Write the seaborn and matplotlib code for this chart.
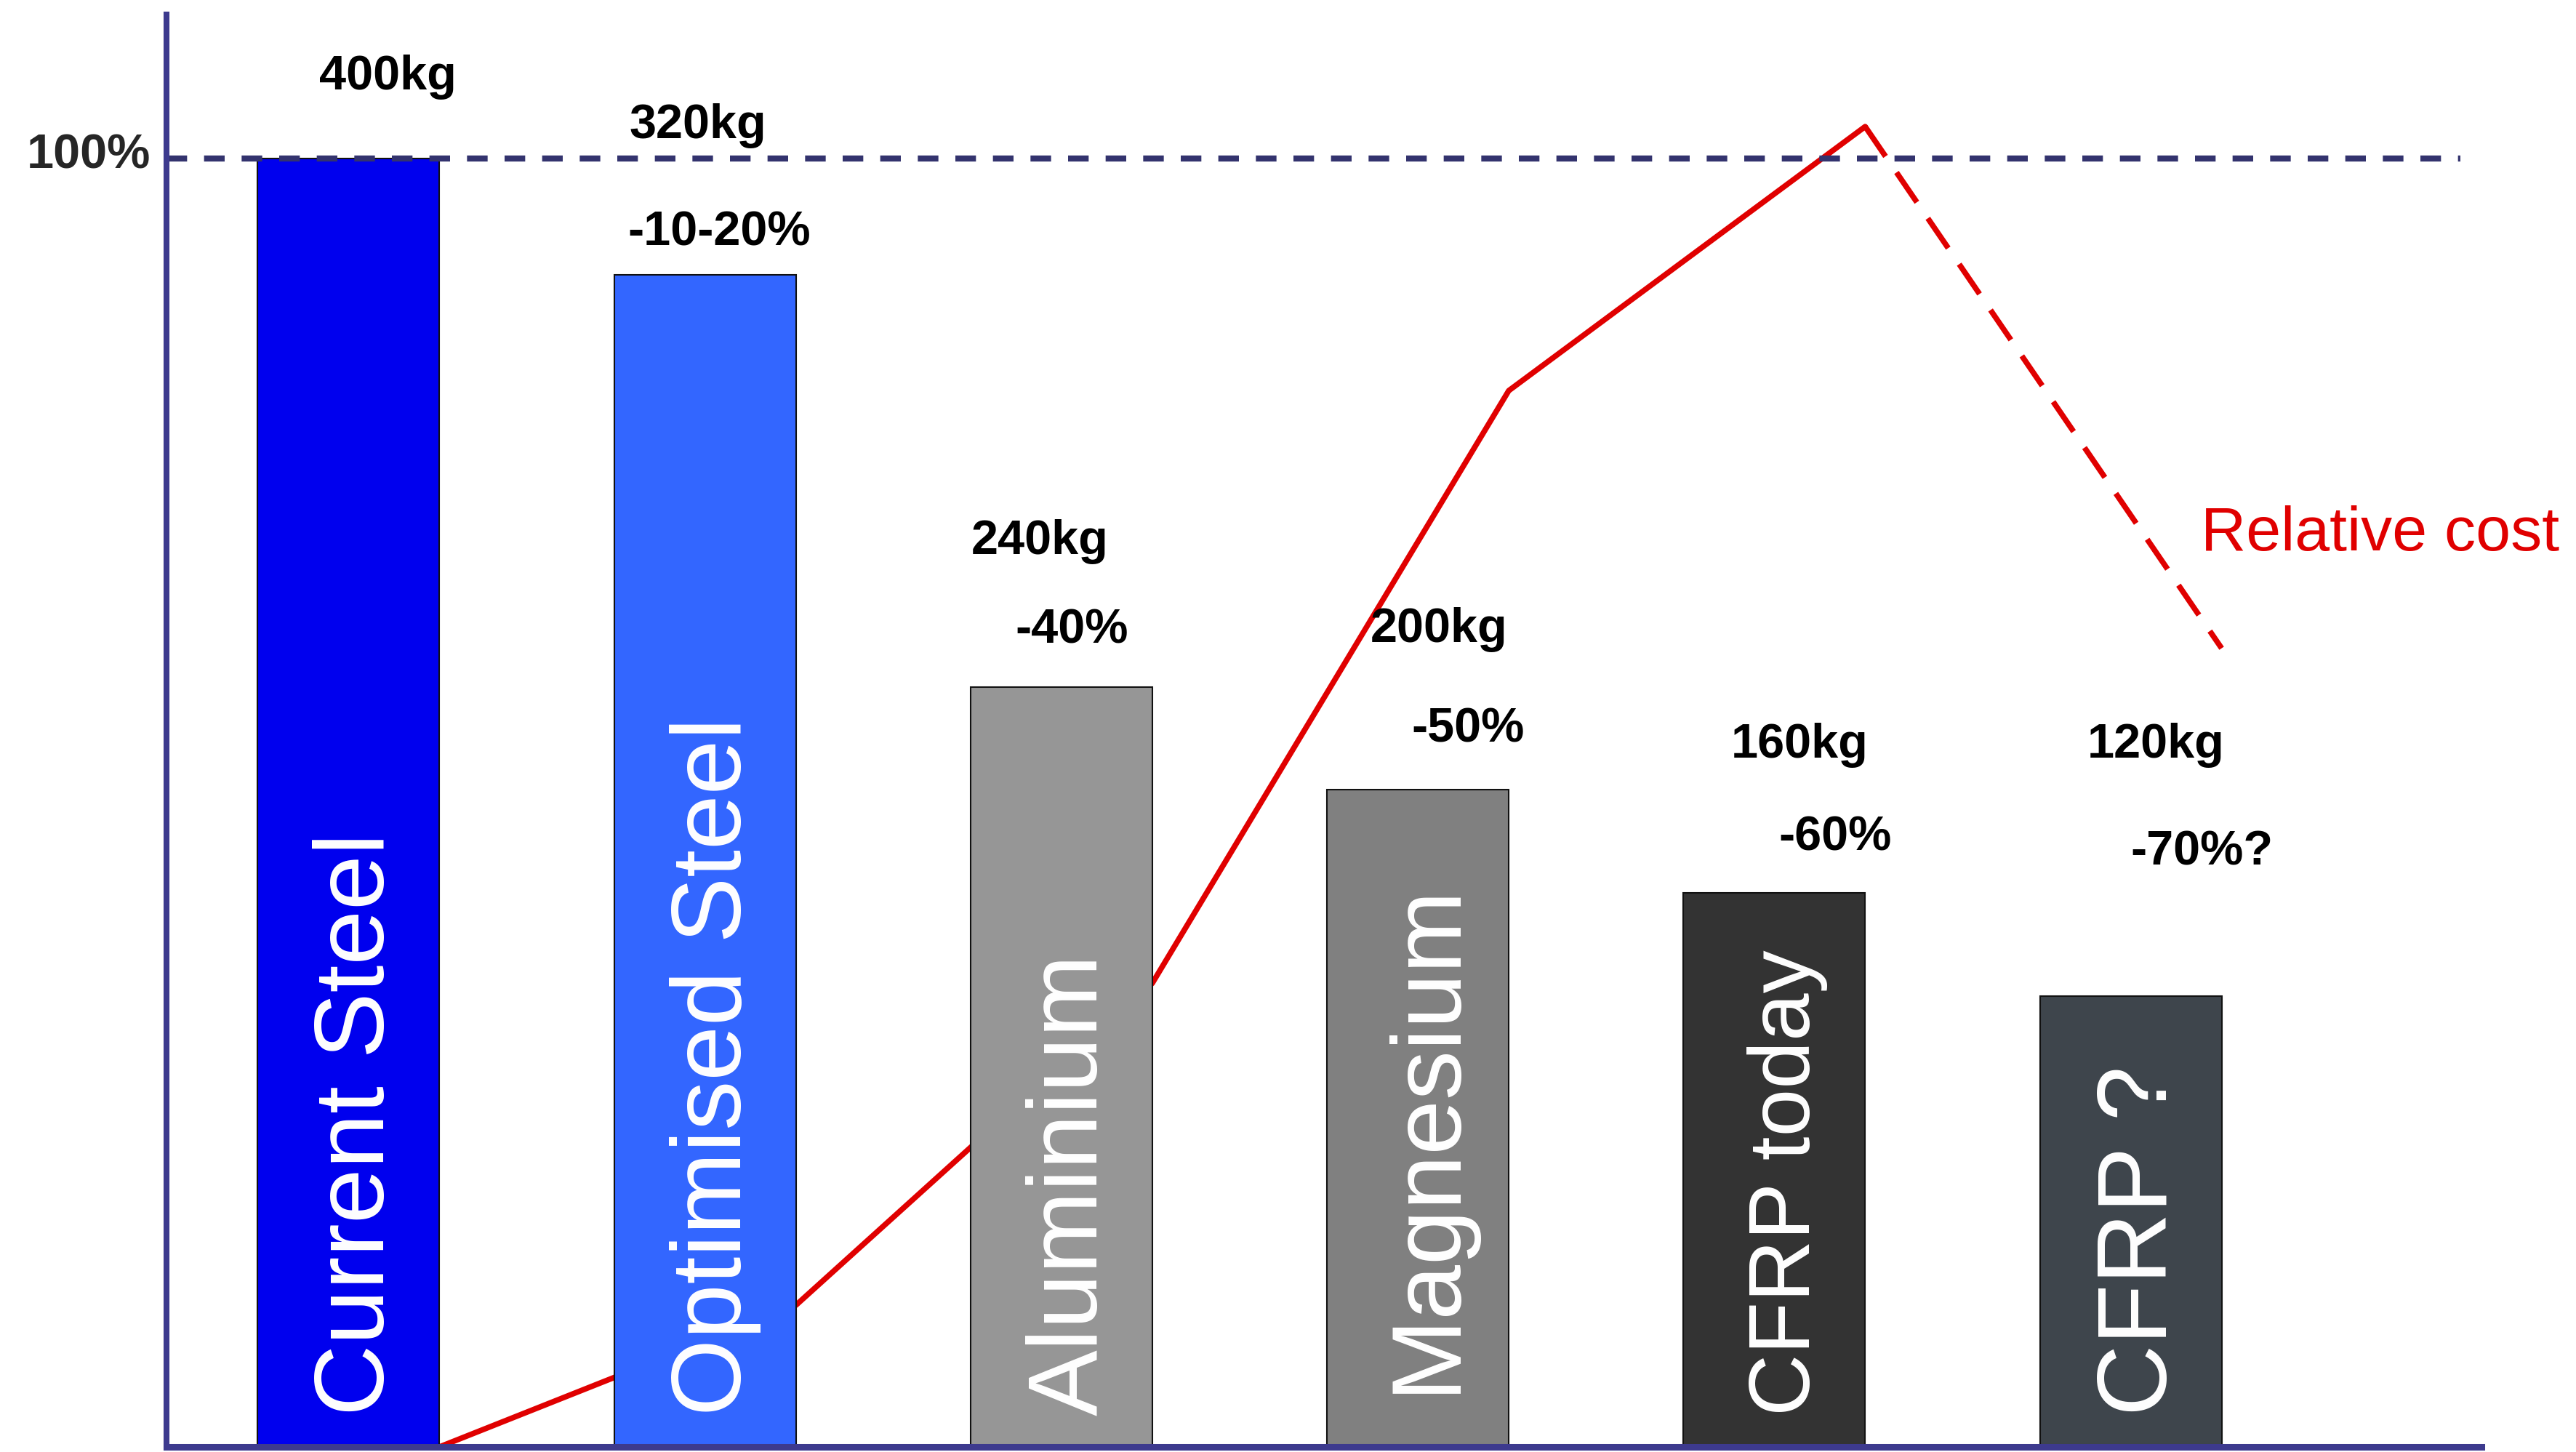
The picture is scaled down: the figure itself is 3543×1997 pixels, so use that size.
import matplotlib
matplotlib.use("Agg")
import matplotlib.pyplot as plt
import matplotlib.transforms as mtransforms
import seaborn as sns
import pandas as pd

# ---- data -------------------------------------------------------------
materials = ["Current Steel", "Optimised Steel", "Aluminium",
             "Magnesium", "CFRP today", "CFRP ?"]
mass_index = [100, 91, 59, 51, 43, 35]          # bar height, % of current steel
mass_labels = ["400kg", "320kg", "240kg", "200kg", "160kg", "120kg"]
saving_labels = ["", "-10-20%", "-40%", "-50%", "-60%", "-70%?"]
relative_cost = [0, 11, 36, 82, 102.5, 62]      # cost curve, one point per material
reference_level = 100
reference_label = "100%"
cost_label = "Relative cost"

# ---- styling / layout ---------------------------------------------------
bar_colors = ["#0000EE", "#3366FF", "#969696", "#808080", "#333333", "#3E454C"]
axis_color = "#3D3A8E"
ref_color = "#33336E"
cost_color = "#E00000"
bar_width = 0.51

# text anchors: (offset from bar index, height in %)
mass_label_pos = [(0.11, 105.4), (-0.02, 101.6), (-0.06, 69.3),
                  (0.06, 62.5), (0.07, 53.5), (0.07, 53.5)]
saving_label_pos = [None, (0.04, 93.3), (0.03, 62.4),
                    (0.14, 54.7), (0.17, 46.3), (0.20, 45.2)]
name_bottom = [2.4, 2.4, 2.4, 4.2, 2.4, 2.4]
name_size = [98, 98, 98, 98, 85, 98]

sns.set_style("white")
plt.rcParams["font.family"] = ["Liberation Sans", "DejaVu Sans"]

fig = plt.figure(figsize=(35.43, 19.97), dpi=100)
ax = fig.add_axes([0.0646, 0.0035, 0.8987, 0.9865])

df = pd.DataFrame({"material": materials, "mass": mass_index})
sns.barplot(data=df, x="material", y="mass", hue="material",
            palette=bar_colors, legend=False, saturation=1,
            width=bar_width, edgecolor="#111111", linewidth=1.5,
            ax=ax, zorder=2)

# relative cost curve, vertices at the right edge of each bar
cost_x = [i + bar_width / 2 for i in range(len(materials))]
sns.lineplot(x=cost_x[:5], y=relative_cost[:5], color=cost_color,
             linewidth=5.5, ax=ax, zorder=1.5)
sns.lineplot(x=cost_x[4:], y=relative_cost[4:], color=cost_color,
             linewidth=5.5, linestyle=(0, (6.5, 3.5)), ax=ax, zorder=1.5)

# 100 % reference line
ax.axhline(reference_level, xmin=0, xmax=0.991, color=ref_color,
           linewidth=6, linestyle=(0, (3.4, 2.8)), zorder=3)

# material names inside the bars
for i, name in enumerate(materials):
    ax.text(i + 0.10, name_bottom[i], name, rotation=90,
            rotation_mode="anchor", ha="left", va="baseline",
            color="white", fontsize=name_size[i], zorder=4)

# mass and saving annotations
for i, lab in enumerate(mass_labels):
    dx, y = mass_label_pos[i]
    ax.text(i + dx, y, lab, ha="center", va="baseline",
            fontsize=48, fontweight="bold", color="black")
for i, lab in enumerate(saving_labels):
    if not lab:
        continue
    dx, y = saving_label_pos[i]
    ax.text(i + dx, y, lab, ha="center", va="baseline",
            fontsize=48, fontweight="bold", color="black")

ax.text(5.70, 69.6, cost_label, ha="center", va="baseline",
        fontsize=62, color=cost_color)

# axes
ax.set_xlim(-0.511, 5.984)
ax.set_ylim(0, 111.2)
ax.set_xticks([])
ax.set_xlabel("")
ax.set_ylabel("")
ax.set_yticks([reference_level], [reference_label])
ax.tick_params(axis="y", length=0, pad=16, labelsize=48)
lift = mtransforms.ScaledTranslation(0, 8 / 72, fig.dpi_scale_trans)
for t in ax.get_yticklabels():
    t.set_fontweight("bold")
    t.set_transform(t.get_transform() + lift)

for side in ("top", "right"):
    ax.spines[side].set_visible(False)
ax.spines["left"].set_color(axis_color)
ax.spines["left"].set_linewidth(5.8)
ax.spines["bottom"].set_color(axis_color)
ax.spines["bottom"].set_linewidth(6.5)
for sp in ax.spines.values():
    sp.set_zorder(5)

fig.savefig("out.png", dpi=100)
